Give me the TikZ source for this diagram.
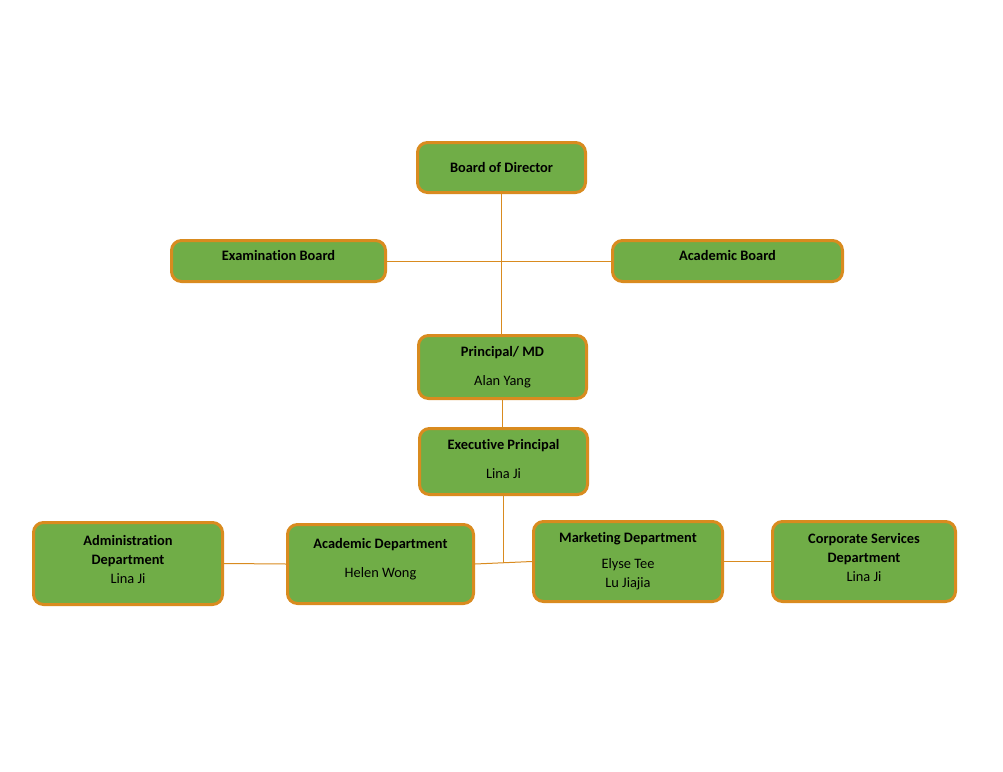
\documentclass[tikz,border=0pt]{standalone}
\usepackage{fontspec}
\setmainfont{Carlito}[Ligatures=NoCommon]
\usepackage{xcolor}
\usepackage{tikz}
\usetikzlibrary{positioning}
\definecolor{boxgreen}{HTML}{70AD47}
\definecolor{boxorange}{HTML}{D98B1F}

\begin{document}
\begin{tikzpicture}[x=0.75pt, y=-0.75pt,
        unit/.style={draw=boxorange, line width=2.25pt, fill=boxgreen, rounded corners=7.5pt,
            align=center, inner sep=0pt, font=\fontsize{10.8}{14.25}\selectfont},
        link/.style={draw=boxorange, line width=0.75pt}]
        \useasboundingbox (0,0) rectangle (1003,771);
        \node[unit, minimum width=126pt, minimum height=37.5pt] (Board) at (501.5, 167.5) {\textbf{Board of Director}};
        \node[unit, minimum width=160.5pt, minimum height=30.75pt, text depth=8.5pt] (ExamBoard) at (278.5, 261) {\textbf{Examination Board}};
        \node[unit, minimum width=172.5pt, minimum height=30.75pt, text depth=8.5pt] (AcadBoard) at (727.5, 261) {\textbf{Academic Board}};
        \node[unit, minimum width=126pt, minimum height=47.25pt] (Principal) at (502.5, 367) {\textbf{Principal/ MD}\\[7.5pt] Alan Yang};
        \node[unit, minimum width=126pt, minimum height=49.5pt, text depth=4pt] (Exec) at (503.5, 461.5) {\textbf{Executive Principal}\\[7.5pt] Lina Ji};
        \node[unit, minimum width=141.75pt, minimum height=61.5pt, text depth=5.5pt] (Admin) at (128, 563.5) {\textbf{Administration}\\ \textbf{Department}\\ Lina Ji};
        \node[unit, minimum width=139.5pt, minimum height=59.25pt, text depth=9pt] (AcadDept) at (380.5, 564) {\textbf{Academic Department}\\[7.5pt] Helen Wong};
        \node[unit, minimum width=141.75pt, minimum height=60pt] (Marketing) at (628, 561.5) {\textbf{Marketing Department}\\[5pt] Elyse Tee\\ Lu Jiajia};
        \node[unit, minimum width=137.25pt, minimum height=60pt, text depth=5.5pt] (Corporate) at (864, 561.5) {\textbf{Corporate Services}\\ \textbf{Department}\\ Lina Ji};
        \coordinate (Hub) at (502, 563);
        \draw[link] (Board.south) -- (Board.south |- Principal.north);
        \draw[link] (ExamBoard.east) -- (AcadBoard.west);
        \draw[link] (Principal.south) -- (Principal.south |- Exec.north);
        \draw[link] (Exec.south) -- (Exec.south |- Hub);
        \draw[link] (AcadDept.east) -- (Marketing.west);
        \draw[link] (Admin.east) -- (AcadDept.west);
        \draw[link] (Marketing.east) -- (Corporate.west);
    \end{tikzpicture}
\end{document}
